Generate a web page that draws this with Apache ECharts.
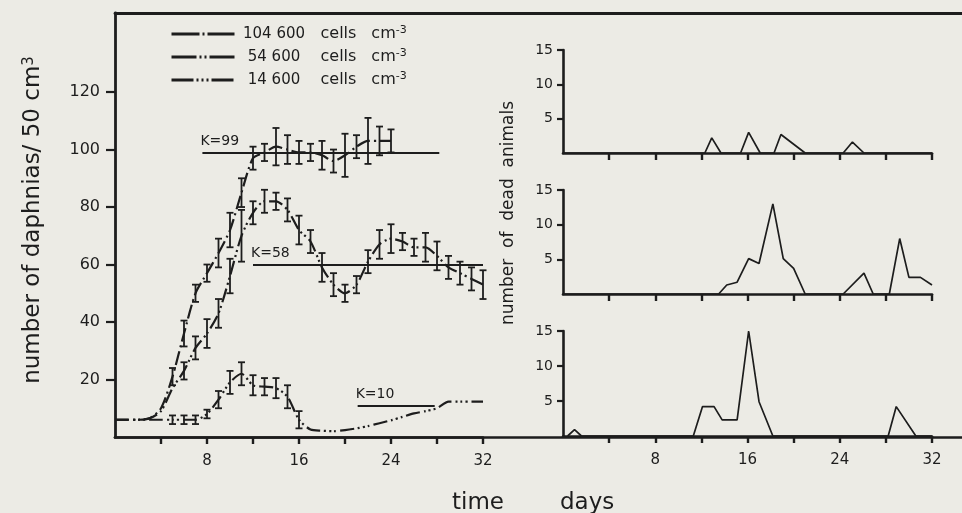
<!DOCTYPE html>
<html><head><meta charset="utf-8">
<script src="https://cdn.jsdelivr.net/npm/echarts@6/dist/echarts.min.js"></script>
<style>html,body{margin:0;padding:0;background:#ecebe5;}#c{width:962px;height:513px;}</style>
</head><body><div id="c"></div>
<script>
// ---- data ----
const days = [0,1,2,3,4,5,6,7,8,9,10,11,12,13,14,15,16,17,18,19,20,21,22,23,24,25,26,27,28,29,30,31,32];
const pop104600 = [6,6,6,6.5,10,21,36,50,57,64,72,85,97,99,101,100,99,99,98,96,98,101,103,103,103];
const err104600 = [null,null,null,null,null,3,4.5,3,3,5,6,5,4,3,6.5,5,4,3,5,4,7.5,4,8,5,4];
const pop54600  = [6,6,6,6.5,9,17,23,31,36,43,56,70,78,82,82,79,72,68,59,53,50,53,61,67,69,68,66,66,63,59,57,55,53];
const err54600  = [null,null,null,null,null,null,3,4,5,5,6,9,4,4,3,4,5,4,5,4,3,3,4,5,5,3,3,5,5,4,4,4,5];
const pop14600  = [6,6,6,6,6,6,6,6,8,13,19,22,18,17.5,17,14,6,2.6,2.2,2,2.4,3,3.8,4.8,5.8,7,8.2,9,10,12.3,12.3,12.3,12.3];
const err14600  = [null,null,null,null,null,1.5,1.5,1.5,1.5,3,4,4,3.5,3,3.5,4,3];
const kLabels = ['K=99','K=58','K=10'];
const kLevels = [99, 60, 11];
const kStart  = [7.6, 12, 21.1];
const kEnd    = [28.2, 32, 27.8];
const deadTop = [[0,0],[12.3,0],[12.9,2.2],[13.7,0],[15.4,0],[16.1,3],[17.1,0],[18.3,0],[18.9,2.7],[21,0],[24.3,0],[25.1,1.6],[26.1,0],[32,0]];
const deadMid = [[0,0],[13.5,0],[14.2,1.3],[15.1,1.7],[16.1,5.1],[17,4.4],[18.2,13],[19.1,5.1],[20,3.7],[21,0],[24.3,0],[26.1,3],[26.9,0],[28.3,0],[29.2,8],[30,2.4],[31,2.4],[32,1.3]];
const deadBot = [[0.4,0],[1,0.9],[1.6,0],[11.3,0],[12.1,4.2],[13.1,4.2],[13.8,2.3],[15.1,2.3],[16.1,15],[17,4.9],[18.2,0],[28.2,0],[28.9,4.2],[30.6,0],[32,0]];
const xTickDays = [4,8,12,16,20,24,28,32];
const xLabelDays = [8,16,24,32];
const yTicksLeft = [20,40,60,80,100,120];
const yTicksRight = [5,10,15];
const seriesNames = ['104 600','54 600','14 600'];

// ---- style ----
const INK = '#1d1d1d';
const FONT = 'DejaVu Sans';
const dashes = [[14,4,2,4],[14,4,2,3,2,4],[14,4,2,3,2,3,2,4]];
const legendDashes = [[28,3,2,3],[25,3,2,3,2,3],[22,3,2,3,2,3,2,3]];

function pairs(vals){ return vals.map((v,i)=>[days[i], v]); }
function errData(vals, errs){
  const out = [];
  vals.forEach((v,i)=>{ if (errs[i] != null) out.push([days[i], v-errs[i], v+errs[i]]); });
  return out;
}
function errSeries(vals, errs){
  return {
    type:'custom', xAxisIndex:0, yAxisIndex:0, silent:true, z:4,
    data: errData(vals, errs), encode:{x:0, y:[1,2]},
    renderItem(params, api){
      const x = api.value(0);
      const a = api.coord([x, api.value(1)]), b = api.coord([x, api.value(2)]);
      const hw = 3.5, st = {stroke:INK, lineWidth:1.8};
      return {type:'group', children:[
        {type:'line', shape:{x1:a[0],y1:a[1],x2:b[0],y2:b[1]}, style:st},
        {type:'line', shape:{x1:a[0]-hw,y1:a[1],x2:a[0]+hw,y2:a[1]}, style:st},
        {type:'line', shape:{x1:b[0]-hw,y1:b[1],x2:b[0]+hw,y2:b[1]}, style:st}
      ]};
    }
  };
}
function popSeries(i, vals){
  return {
    name: seriesNames[i], type:'line', xAxisIndex:0, yAxisIndex:0, data: pairs(vals),
    smooth:0.25, symbol:'none', z:3, silent:true,
    lineStyle:{color:INK, width:2.2, type:dashes[i]},
    itemStyle:{color:INK},
    markLine:{
      symbol:'none', silent:true, animation:false,
      lineStyle:{type:'solid', color:INK, width:1.8},
      label:{show:true, position:'insideStartTop', formatter:kLabels[i], color:INK, fontFamily:FONT, fontSize:14, distance:[-2,4]},
      data:[[{coord:[kStart[i], kLevels[i]]},{coord:[kEnd[i], kLevels[i]]}]]
    }
  };
}
function xAx(grid, labels){
  return {
    type:'value', gridIndex:grid, min:0, max:32,
    axisLine:{show:true, onZero:false, lineStyle:{color:INK, width:2.6}},
    axisTick:{show:true, inside:false, customValues:xTickDays, length:7, lineStyle:{color:INK, width:2.4}},
    axisLabel:{show:labels, inside:false, customValues:xLabelDays, color:INK, fontFamily:FONT, fontSize:15, margin:17},
    splitLine:{show:false}
  };
}
function yAxRight(grid){
  return {
    type:'value', gridIndex:grid, min:0, max:15,
    axisLine:{show:true, onZero:false, lineStyle:{color:INK, width:2.6}},
    axisTick:{show:true, inside:false, customValues:yTicksRight, length:6, lineStyle:{color:INK, width:2.2}},
    axisLabel:{show:true, inside:false, customValues:yTicksRight, color:INK, fontFamily:FONT, fontSize:14, margin:10},
    splitLine:{show:false}
  };
}
function deadSeries(grid, data){
  return {type:'line', xAxisIndex:grid, yAxisIndex:grid, data:data, symbol:'none', silent:true,
    lineStyle:{color:INK, width:1.7}, z:3};
}

const chart = echarts.init(document.getElementById('c'), null, {renderer:'canvas'});
chart.setOption({
  backgroundColor:'#ecebe5',
  animation:false,
  textStyle:{fontFamily:FONT, color:INK},
  grid:[
    {left:115, top:13, width:368, height:424},
    {left:563, top:50, width:369, height:103},
    {left:563, top:190, width:369, height:104},
    {left:563, top:331, width:369, height:105},
    {left:115, top:13, right:0, height:424}
  ],
  xAxis:[
    xAx(0, true), xAx(1, false), xAx(2, false), xAx(3, true),
    {type:'value', gridIndex:4, min:0, max:1, position:'bottom', axisLine:{show:true, onZero:false, lineStyle:{color:INK, width:2.6}}, axisTick:{show:false}, axisLabel:{show:false}, splitLine:{show:false}},
    {type:'value', gridIndex:4, min:0, max:1, position:'top', axisLine:{show:true, onZero:false, lineStyle:{color:INK, width:2.8}}, axisTick:{show:false}, axisLabel:{show:false}, splitLine:{show:false}}
  ],
  yAxis:[
    {type:'value', gridIndex:0, min:0, max:147.5,
      axisLine:{show:true, onZero:false, lineStyle:{color:INK, width:2.8}},
      axisTick:{show:true, inside:false, customValues:yTicksLeft, length:9, lineStyle:{color:INK, width:2.2}},
      axisLabel:{show:true, inside:false, customValues:yTicksLeft, color:INK, fontFamily:FONT, fontSize:16, margin:15},
      splitLine:{show:false}},
    yAxRight(1), yAxRight(2), yAxRight(3),
    {type:'value', gridIndex:4, min:0, max:1, show:false}
  ],
  legend:{
    left:165, top:20, orient:'vertical', itemWidth:63, itemHeight:12, itemGap:5, selectedMode:false,
    itemStyle:{opacity:0},
    data: seriesNames.map((n,i)=>({name:n, itemStyle:{opacity:0}, lineStyle:{type:legendDashes[i], width:3, color:INK}})),
    formatter: n => '{n|' + n + '}{c|cells}{m|cm}{s|-3}',
    textStyle:{color:INK, fontFamily:FONT, fontSize:15, lineHeight:18,
      rich:{
        n:{width:69, align:'right', fontSize:15, fontFamily:FONT, color:INK},
        c:{fontSize:16, fontFamily:FONT, color:INK, padding:[0,0,0,12]},
        m:{fontSize:16, fontFamily:FONT, color:INK, padding:[0,0,0,15]},
        s:{fontSize:11, fontFamily:FONT, color:INK, verticalAlign:'top', lineHeight:12}
      }}
  },
  graphic:[
    {type:'text', x:33, y:220, rotation:Math.PI/2,
      style:{text:'number of daphnias/ 50 cm{s|3}', rich:{s:{fontSize:15, verticalAlign:'top', fontFamily:FONT, fill:INK}}, fontFamily:FONT, fontSize:23, fill:INK, align:'center', verticalAlign:'middle'}},
    {type:'text', x:509, y:213, rotation:Math.PI/2,
      style:{text:'number  of  dead  animals', fontFamily:FONT, fontSize:17, fill:INK, align:'center', verticalAlign:'middle'}},
    {type:'text', x:452, y:503,
      style:{text:'time', fontFamily:FONT, fontSize:23, fill:INK, align:'left', verticalAlign:'middle'}},
    {type:'text', x:560, y:503,
      style:{text:'days', fontFamily:FONT, fontSize:23, fill:INK, align:'left', verticalAlign:'middle'}}
  ],
  series:[
    popSeries(0, pop104600), popSeries(1, pop54600), popSeries(2, pop14600),
    errSeries(pop104600, err104600), errSeries(pop54600, err54600), errSeries(pop14600, err14600),
    deadSeries(1, deadTop), deadSeries(2, deadMid), deadSeries(3, deadBot)
  ]
});
</script></body></html>
